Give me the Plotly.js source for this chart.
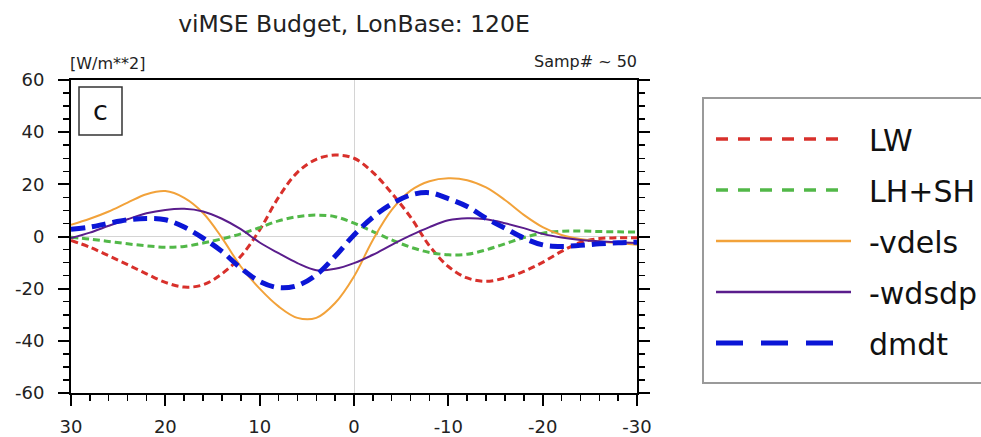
<!DOCTYPE html>
<html>
<head>
<meta charset="utf-8">
<script src="https://cdn.plot.ly/plotly-3.0.1.min.js"></script>
<style>
  html, body { margin: 0; padding: 0; background: #fff; }
  #chart { width: 981px; height: 437px; }
</style>
</head>
<body>
<div id="chart"></div>
<script>
// ---- data ----
var lon = [30,28,26,24,22,20,18,16,14,12,10,8,6,4,2,0,-2,-4,-6,-8,-10,-12,-14,-16,-18,-20,-22,-24,-26,-28,-30];

var LW     = [-1.5,-4.1,-7.4,-10.8,-14.3,-17.6,-19.4,-18.5,-14.3,-7.6,2.5,15.0,24.6,29.6,31.2,30.0,24.6,16.6,7.4,-3.6,-11.5,-15.9,-17.2,-15.9,-13.4,-9.9,-5.7,-2.3,-0.8,-0.5,-0.5];
var LHSH   = [-0.3,-1.0,-1.9,-2.8,-3.6,-4.1,-3.8,-2.5,-0.9,1.0,3.4,6.0,7.6,8.2,7.6,5.1,1.9,-1.3,-4.1,-6.1,-7.0,-6.8,-5.1,-2.8,-0.4,1.3,2.0,2.1,1.9,1.8,1.7];
var vdels  = [4.5,6.8,9.6,13.0,16.2,17.4,14.8,9.0,-0.5,-11.5,-20.0,-26.8,-31.2,-31.2,-25.5,-15.3,-1.3,10.2,17.6,21.2,22.3,21.6,18.8,14.0,8.3,3.6,0.6,-1.0,-1.9,-2.5,-3.2];
var wdsdp  = [-0.6,1.5,4.1,6.6,8.9,10.2,10.6,9.6,6.8,2.8,-2.3,-6.4,-10.2,-12.9,-12.4,-10.2,-7.0,-3.2,0.4,3.6,6.2,7.0,6.6,5.1,3.2,1.0,-0.4,-1.3,-1.8,-2.2,-2.5];
var dmdt   = [2.8,3.6,5.1,6.4,6.9,6.4,3.6,-0.6,-5.7,-12.1,-17.2,-19.6,-18.8,-14.7,-7.6,0.6,7.4,12.5,15.9,16.8,14.5,11.5,7.0,3.2,-0.6,-3.2,-3.8,-3.4,-2.8,-2.4,-2.2];

var seriesNames = ["LW", "LH+SH", "-vdels", "-wdsdp", "dmdt"];
var xTickVals = [30,20,10,0,-10,-20,-30];
var xTickText = ["30","20","10","0","-10","-20","-30"];
var yTickVals = [-60,-40,-20,0,20,40,60];
var yTickText = ["-60","-40","-20","0","20","40","60"];

var titleText = "viMSE Budget, LonBase: 120E";
var unitText = "[W/m**2]";
var sampText = "Samp# ~ 50";
var panelText = "c";

// ---- styles ----
var FONT = "DejaVu Sans";
var colors = ["#d8302b", "#52b848", "#f2a23a", "#5a1d8c", "#0b16d6"];
var widths = [3, 3, 2, 2, 5];
var dashes = ["7px,4px", "7px,4px", "solid", "solid", "14px,7px"];
var legendDash = ["12px,10px", "12px,10px", "solid", "solid", "27px,18px"];
var legendWidth = [3.5, 3.5, 2.5, 2.5, 5];

var seriesY = [LW, LHSH, vdels, wdsdp, dmdt];

// ---- geometry helpers (pixel -> paper) ----
var W = 981, H = 437, mL = 71, mR = 0, mT = 80, mB = 44;
var pw = W - mL - mR, ph = H - mT - mB;
function px(x) { return (x - mL) / pw; }
function py(y) { return (H - mB - y) / ph; }

var traces = seriesY.map(function (ys, i) {
  return {
    x: lon, y: ys, type: "scatter", mode: "lines",
    name: seriesNames[i],
    line: { color: colors[i], width: widths[i], dash: dashes[i], shape: "spline", smoothing: 1 },
    showlegend: false, hoverinfo: "skip"
  };
});

// legend drawn manually
var rowY = [139, 190, 241, 292, 343];
var lineEnd = [840, 840, 851, 851, 833];
var shapes = [
  { type: "rect", xref: "paper", yref: "paper", x0: px(703), x1: px(996), y0: py(383), y1: py(98),
    line: { color: "#9a9a9a", width: 2 }, fillcolor: "rgba(0,0,0,0)" },
  { type: "rect", xref: "paper", yref: "paper", x0: px(79), x1: px(122), y0: py(135), y1: py(87),
    line: { color: "#333", width: 1.5 }, fillcolor: "rgba(0,0,0,0)" }
];
var annotations = [
  { text: panelText, xref: "paper", yref: "paper", x: px(100.5), y: py(111), xanchor: "center", yanchor: "middle",
    showarrow: false, font: { family: FONT, size: 27, color: "#111" } },
  { text: unitText, xref: "paper", yref: "paper", x: px(68), y: py(63), xanchor: "left", yanchor: "middle",
    showarrow: false, font: { family: FONT, size: 16, color: "#222" } },
  { text: sampText, xref: "paper", yref: "paper", x: px(639), y: py(61), xanchor: "right", yanchor: "middle",
    showarrow: false, font: { family: FONT, size: 16, color: "#222" } }
];
seriesNames.forEach(function (nm, i) {
  shapes.push({ type: "line", xref: "paper", yref: "paper", x0: px(716), x1: px(lineEnd[i]), y0: py(rowY[i]), y1: py(rowY[i]),
    line: { color: colors[i], width: legendWidth[i], dash: legendDash[i] } });
  annotations.push({ text: nm, xref: "paper", yref: "paper", x: px(867), y: py(rowY[i] + 1), xanchor: "left", yanchor: "middle",
    showarrow: false, font: { family: FONT, size: 30, color: "#111" } });
});

var axisCommon = {
  showline: true, linecolor: "#000", linewidth: 2,
  ticks: "outside", ticklen: 11, tickwidth: 2, tickcolor: "#000",
  showgrid: false, zeroline: true, zerolinecolor: "#d4d4d4", zerolinewidth: 1,
  tickfont: { family: FONT, size: 18, color: "#222" },
  tickmode: "array", fixedrange: true
};

var layout = {
  width: W, height: H,
  margin: { l: mL, r: mR, t: mT, b: mB, pad: 0 },
  paper_bgcolor: "#fff", plot_bgcolor: "#fff",
  font: { family: FONT },
  title: { text: titleText, xref: "container", yref: "container", x: 354 / W, y: 1 - 24 / H,
    xanchor: "center", yanchor: "middle", font: { family: FONT, size: 23.5, color: "#222" } },
  xaxis: Object.assign({}, axisCommon, {
    domain: [0, px(637)], range: [30, -30], autorange: false,
    tickvals: xTickVals, ticktext: xTickText, mirror: true, ticklabelstandoff: 5,
    minor: { tickmode: "linear", tick0: 0, dtick: 2, ticks: "outside", ticklen: 6, tickwidth: 1.5, tickcolor: "#000" }
  }),
  yaxis: Object.assign({}, axisCommon, {
    range: [-60, 60], autorange: false,
    tickvals: yTickVals, ticktext: yTickText, mirror: "allticks", ticklabelstandoff: 10,
    minor: { tickmode: "linear", tick0: 0, dtick: 5, ticks: "outside", ticklen: 6, tickwidth: 1.5, tickcolor: "#000" }
  }),
  shapes: shapes,
  annotations: annotations,
  showlegend: false
};

Plotly.newPlot("chart", traces, layout, { displayModeBar: false, staticPlot: true });
</script>
</body>
</html>
